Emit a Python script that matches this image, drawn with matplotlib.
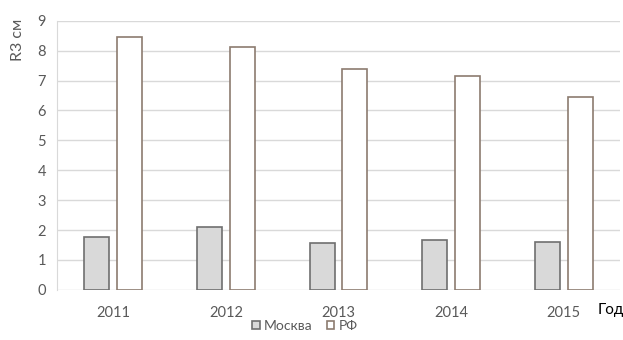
import matplotlib
matplotlib.use("Agg")
import matplotlib.pyplot as plt
import numpy as np

plt.rcParams['font.family'] = ['Lato', 'DejaVu Sans']

years = ['2011', '2012', '2013', '2014', '2015']
moscow = [1.75, 2.1, 1.55, 1.65, 1.6]
rf = [8.45, 8.12, 7.38, 7.15, 6.44]
yticks = [0, 1, 2, 3, 4, 5, 6, 7, 8, 9]

W, H = 623, 340
fig = plt.figure(figsize=(W/100, H/100), dpi=100)
ax = fig.add_axes([57/W, 1-289.8/H, (620-57)/W, (289.8-20.7)/H])

x = np.arange(len(years))
bw = 0.222
off = 0.145
ax.bar(x - off, moscow, bw, color='#d9d9d9', edgecolor='#6f6f6f', linewidth=1.2, label='Москва', zorder=3)
ax.bar(x + off, rf, bw, color='white', edgecolor='#8c7b70', linewidth=1.2, label='РФ', zorder=3)

ax.set_xlim(-0.5, len(years) - 0.5)
ax.set_ylim(0, 9)
ax.set_yticks(yticks)
ax.set_xticks(x)
ax.set_xticklabels(years)
ax.grid(axis='y', color='#d9d9d9', linewidth=1, zorder=0)
for s in ['top', 'right', 'bottom']:
    ax.spines[s].set_visible(False)
ax.spines['left'].set_color('#d9d9d9')
ax.tick_params(axis='both', length=0, labelsize=10.5, colors='#595959', pad=8)
ax.tick_params(axis='x', pad=12)

fig.text(18/W, 1-40/H, 'R3 см', rotation=90, ha='center', va='center', fontsize=11.5, color='#595959')
fig.text(598/W, 1-310/H, 'Год', ha='left', va='center', fontsize=11, color='black')

fig.legend(loc='center', bbox_to_anchor=(305/W, 1-326/H), ncol=2, frameon=False,
           fontsize=10, handlelength=0.55, handleheight=0.55, handletextpad=0.3,
           columnspacing=1.0, labelcolor='#595959')

fig.savefig('out.png', dpi=100)
